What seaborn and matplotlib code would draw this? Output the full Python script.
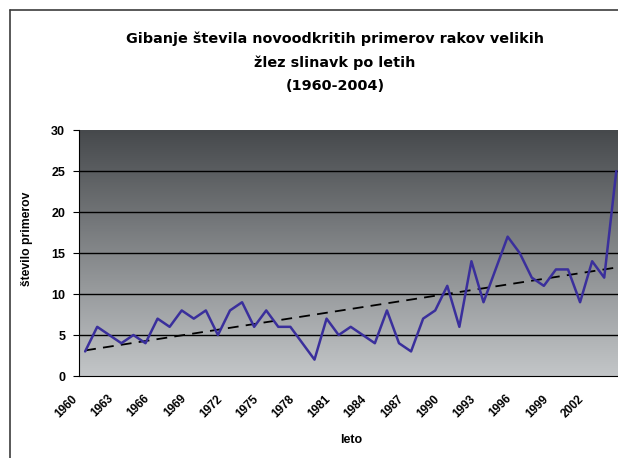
import numpy as np
import pandas as pd
import matplotlib
matplotlib.use('Agg')
import matplotlib.pyplot as plt
import matplotlib.transforms as mtransforms
from matplotlib.lines import Line2D
import seaborn as sns

# ─── Podatki ────────────────────────────────────────────────────────────────
years = list(range(1960, 2005))
counts = [3, 6, 5, 4, 5, 4, 7, 6, 8, 7,
          8, 5, 8, 9, 6, 8, 6, 6, 4, 2,
          7, 5, 6, 5, 4, 8, 4, 3, 7, 8,
          11, 6, 14, 9, 13, 17, 15, 12, 11, 13,
          13, 9, 14, 12, 25]
label_years = list(range(1960, 2003, 3))
y_ticks = [0, 5, 10, 15, 20, 25, 30]
# ────────────────────────────────────────────────────────────────────────────

df = pd.DataFrame({'leto': years, 'stevilo': counts})

sns.set_style('white')
plt.rcParams['font.family'] = ['Liberation Sans', 'DejaVu Sans']
for k in ['text.color', 'axes.labelcolor', 'xtick.color', 'ytick.color']:
    plt.rcParams[k] = 'black'

W, H = 618, 458
fig = plt.figure(figsize=(W / 100, H / 100), dpi=100)
ax = fig.add_axes([0.128, 0.179, 0.879, 0.537])

x0, x1 = years[0] - 0.5, years[-1] + 0.5
ax.set_xlim(x0, x1)
ax.set_ylim(0, 30)

# gradient ozadje (temno zgoraj, svetlo spodaj)
grad = np.linspace(0, 1, 256).reshape(-1, 1)
cmap = matplotlib.colors.LinearSegmentedColormap.from_list('bg', ['#c3c6c8', '#46494c'])
ax.imshow(grad, extent=[x0, x1, 0, 30], origin='lower', aspect='auto', cmap=cmap, zorder=0)

for yv in y_ticks[1:-1]:
    ax.axhline(yv, color='black', lw=1.0, zorder=1)

# trend (linearna regresija)
coef = np.polyfit(years, counts, 1)
trend = np.polyval(coef, years)
ax.plot(years, trend, color='black', lw=1.3, ls=(0, (6, 4)), zorder=2)

sns.lineplot(data=df, x='leto', y='stevilo', ax=ax, color='#3a2f9c', lw=1.8, zorder=3)

ax.set_xticks(np.arange(x0, x1 + 0.1, 1.0), minor=True)
ax.tick_params(axis='x', which='major', length=0, pad=12)
ax.tick_params(axis='x', which='minor', length=4, width=0.8, color='black', direction='out')
ax.tick_params(axis='y', length=4, width=0.8, color='black', direction='out', left=True, pad=6)

ax.set_yticks(y_ticks)
ax.set_yticklabels([str(v) for v in y_ticks], fontweight='bold', fontsize=9)
ax.set_xticks(label_years)
ax.set_xticklabels([str(v) for v in label_years], rotation=45, ha='right',
                   rotation_mode='anchor', fontweight='bold', fontsize=8.5)
# zamik oznak levo (kot v Excelu)
shift = mtransforms.ScaledTranslation(-14 / 100, 0, fig.dpi_scale_trans)
for lab in ax.get_xticklabels():
    lab.set_transform(lab.get_transform() + shift)

for s in ['top', 'right']:
    ax.spines[s].set_visible(False)
ax.spines['left'].set_color('black')
ax.spines['bottom'].set_color('black')

ax.set_xlabel('leto', fontweight='bold', fontsize=9)
ax.xaxis.set_label_coords(0.5, -0.236)
ax.set_ylabel('število primerov', fontweight='bold', fontsize=8.7)
ax.yaxis.set_label_coords(-0.084, 0.557)

fig.text(0.542, 0.932, 'Gibanje števila novoodkritih primerov rakov velikih\nžlez slinavk po letih\n(1960-2004)',
         ha='center', va='top', fontsize=10.4, fontweight='bold', linespacing=1.85,
         family='DejaVu Sans')

# okvir grafikona (levo in zgoraj)
fig.add_artist(Line2D([9.5 / W, 9.5 / W], [0, 1 - 9.5 / H], color='#3c3c3c', lw=1.2,
                      transform=fig.transFigure))
fig.add_artist(Line2D([9.5 / W, 1], [1 - 9.5 / H, 1 - 9.5 / H], color='#3c3c3c', lw=1.2,
                      transform=fig.transFigure))

fig.savefig('out.png', dpi=100)
